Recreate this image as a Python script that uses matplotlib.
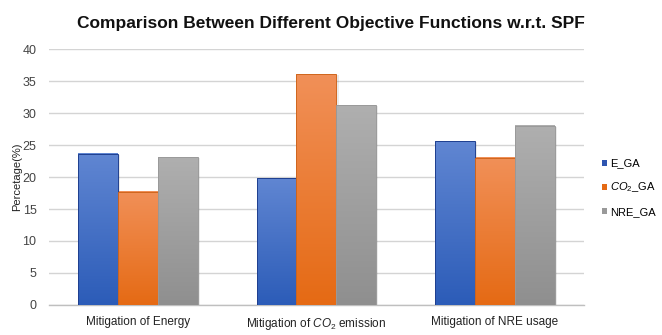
import numpy as np
import matplotlib.pyplot as plt
from matplotlib import font_manager
from matplotlib.colors import LinearSegmentedColormap

# pick a narrow font if there is one, otherwise plain Liberation Sans
names = {f.name for f in font_manager.fontManager.ttflist}
font = 'Liberation Sans Narrow' if 'Liberation Sans Narrow' in names else 'Liberation Sans'
plt.rcParams['font.family'] = [font, 'DejaVu Sans']
plt.rcParams['mathtext.fontset'] = 'custom'
plt.rcParams['mathtext.it'] = font + ':italic'
plt.rcParams['mathtext.rm'] = font

categories = ['Mitigation of Energy', r'Mitigation of $CO_2$ emission', 'Mitigation of NRE usage']
series = ['E_GA', r'$CO_2$_GA', 'NRE_GA']
e_ga = [23.6, 19.8, 25.6]
co2_ga = [17.7, 36.1, 23.0]
nre_ga = [23.1, 31.2, 28.0]
values = [e_ga, co2_ga, nre_ga]

# (top colour, bottom colour, edge colour, legend colour)
styles = [('#6086d2', '#2c5cb8', '#1f3f8f', '#2f55b0'),
          ('#f19058', '#e56a14', '#d0661e', '#e56a14'),
          ('#afafaf', '#8f8f8f', '#9a9a9a', '#999999')]

fig = plt.figure(figsize=(6.62, 3.35), dpi=100)
ax = fig.add_axes([0.074, 0.0896, 0.808, 0.764])

x = np.arange(len(categories))
w = 0.224
for i, (vals, (top, bot, edge, leg)) in enumerate(zip(values, styles)):
    pos = x + (i - 1) * w
    cmap = LinearSegmentedColormap.from_list('g%d' % i, [bot, top])
    grad = np.linspace(0, 1, 256).reshape(-1, 1)
    for p, v in zip(pos, vals):
        ax.imshow(grad, cmap=cmap, origin='lower', aspect='auto',
                  extent=(p - w / 2, p + w / 2, 0, v), zorder=3)
        # soft shadow on the right side
        ax.bar(p + 0.012, v, w, bottom=-0.15, color='#000000', alpha=0.08,
               linewidth=0, zorder=2.5)
        ax.bar(p, v, w, facecolor='none', edgecolor=edge, linewidth=0.7, zorder=4)
    ax.bar([0], [0], w, color=leg, label=series[i])

ax.set_xlim(-0.5, 2.5)
ax.set_ylim(0, 40)
ax.set_yticks(range(0, 41, 5))
ax.set_xticks(x)
ax.set_xticklabels(categories, fontsize=8.5, color='#222222')
ax.tick_params(axis='y', labelsize=9, colors='#444444', length=0, pad=9)
ax.tick_params(axis='x', length=0, pad=8)
ax.yaxis.grid(True, color='#d4d4d4', linewidth=1.0, zorder=0)
ax.set_axisbelow(True)
for s in ['top', 'right', 'left']:
    ax.spines[s].set_visible(False)
ax.spines['bottom'].set_color('#bfbfbf')
ax.spines['bottom'].set_linewidth(1.0)
ax.set_ylabel('Percetage(%)', fontsize=8, color='#222222', labelpad=0)

fig.text(0.5, 0.93, 'Comparison Between Different Objective Functions w.r.t. SPF',
         ha='center', va='center', fontsize=12.5, fontweight='bold', color='#111111')

fig.legend(loc='center left', bbox_to_anchor=(0.905, 0.44), frameon=False,
           fontsize=8, handlelength=0.45, handleheight=0.45, handletextpad=0.2,
           labelspacing=1.1, borderpad=0.2, borderaxespad=0.1)

fig.savefig('out.png', dpi=100, facecolor='white')
